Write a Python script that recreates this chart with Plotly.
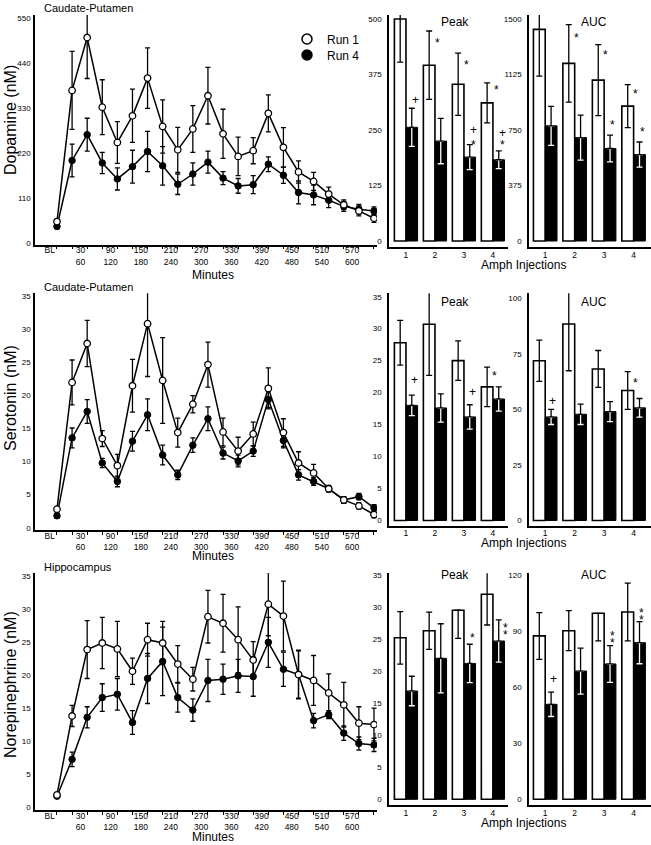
import plotly.graph_objects as go

W, H = 651, 845
FONT = "Liberation Sans, Arial, sans-serif"

# ---------------- data ----------------
TIME_LABELS = ["BL", "30", "60", "90", "120", "150", "180", "210", "240", "270", "300",
               "330", "360", "390", "420", "450", "480", "510", "540", "570", "600", "630"]
INJ = [1, 2, 3, 4]

# Dopamine, caudate-putamen
DA_RUN1 = [54, 374, 503, 333, 247, 312, 404, 286, 229, 280, 361, 268, 213, 227, 318, 235, 175, 152, 121, 95, 80, 62]
DA_RUN1_ERR = [5, 95, 100, 67, 51, 65, 74, 65, 55, 57, 69, 60, 47, 32, 45, 48, 27, 22, 17, 12, 12, 10]
DA_RUN4 = [42, 203, 266, 197, 158, 188, 225, 190, 145, 170, 199, 160, 141, 144, 194, 167, 125, 119, 106, 91, 84, 80]
DA_RUN4_ERR = [5, 40, 40, 26, 27, 40, 49, 47, 25, 27, 27, 16, 18, 22, 18, 20, 28, 24, 18, 12, 12, 10]

# Serotonin, caudate-putamen
HT_RUN1 = [2.8, 22.0, 27.9, 13.5, 9.4, 21.5, 30.9, 22.3, 14.4, 18.7, 24.7, 14.5, 11.6, 14.2, 21.1, 14.4, 9.8, 8.3, 5.9, 4.2, 3.3, 2.0]
HT_RUN1_ERR = [0.4, 3.4, 3.5, 1.2, 1.7, 4.0, 8.0, 6.5, 2.2, 1.3, 3.4, 2.1, 2.1, 1.8, 3.1, 2.1, 1.7, 1.3, 0.5, 0.5, 0.5, 0.5]
HT_RUN4 = [1.8, 13.6, 17.6, 9.8, 7.0, 13.1, 17.1, 11.0, 8.0, 12.5, 16.5, 11.3, 10.1, 11.6, 19.4, 13.2, 8.0, 7.0, 5.9, 4.2, 4.7, 3.0]
HT_RUN4_ERR = [0.4, 1.5, 1.8, 0.7, 0.8, 1.5, 2.4, 1.5, 0.7, 1.1, 1.8, 0.9, 0.9, 0.8, 1.2, 1.1, 0.8, 0.6, 0.4, 0.5, 0.5, 0.5]

# Norepinephrine, hippocampus
NE_RUN1 = [1.8, 13.8, 23.9, 24.9, 24.0, 20.6, 25.4, 24.9, 21.7, 19.4, 28.9, 27.9, 25.4, 22.3, 30.8, 29.0, 20.1, 19.2, 17.3, 15.5, 12.7, 12.5]
NE_RUN1_ERR = [0.3, 1.6, 4.4, 3.9, 4.2, 2.0, 2.5, 3.3, 2.8, 1.8, 4.0, 4.4, 5.0, 2.8, 4.8, 5.3, 3.7, 3.8, 2.9, 3.4, 2.5, 2.5]
NE_RUN4 = [1.6, 7.2, 13.6, 16.6, 17.1, 12.8, 19.5, 22.1, 16.6, 14.7, 19.2, 19.4, 19.9, 19.8, 25.0, 20.9, 20.1, 13.1, 14.0, 11.2, 9.6, 9.4]
NE_RUN4_ERR = [0.3, 1.1, 1.6, 2.1, 2.4, 1.8, 3.8, 5.2, 2.2, 1.7, 3.2, 2.3, 2.5, 3.0, 3.8, 2.6, 3.6, 1.1, 0.6, 1.1, 1.0, 1.0]

# Peak / AUC bars (Run 1 = white, Run 4 = black)
DA_PEAK_W = [500, 396, 353, 311]
DA_PEAK_W_UP = [97, 77, 70, 45]
DA_PEAK_W_DN = [97, 77, 70, 45]
DA_PEAK_B = [256, 225, 189, 183]
DA_PEAK_B_ERR = [43, 51, 28, 20]
DA_AUC_W = [1430, 1200, 1087, 911]
DA_AUC_W_UP = [316, 262, 240, 145]
DA_AUC_W_DN = [316, 262, 240, 145]
DA_AUC_B = [778, 699, 625, 584]
DA_AUC_B_ERR = [132, 152, 90, 85]

HT_PEAK_W = [27.8, 30.7, 25.0, 20.9]
HT_PEAK_W_UP = [3.5, 8.0, 3.1, 3.1]
HT_PEAK_W_DN = [3.5, 8.0, 3.1, 3.1]
HT_PEAK_B = [18.0, 17.6, 16.2, 19.0]
HT_PEAK_B_ERR = [1.6, 2.2, 1.9, 1.9]
HT_AUC_W = [71.9, 88.4, 68.2, 58.5]
HT_AUC_W_UP = [9.3, 21.0, 8.3, 8.5]
HT_AUC_W_DN = [9.3, 21.0, 8.3, 8.5]
HT_AUC_B = [46.6, 47.8, 49.0, 50.7]
HT_AUC_B_ERR = [3.4, 4.6, 4.5, 4.2]

NE_PEAK_W = [25.2, 26.3, 29.5, 32.0]
NE_PEAK_W_UP = [4.1, 2.9, 0.0, 4.8]
NE_PEAK_W_DN = [4.1, 2.9, 4.4, 4.8]
NE_PEAK_B = [16.9, 22.0, 21.2, 24.7]
NE_PEAK_B_ERR = [2.3, 5.4, 3.0, 3.3]
NE_AUC_W = [87.4, 90.2, 99.5, 100.2]
NE_AUC_W_UP = [12.5, 10.7, 0.0, 15.4]
NE_AUC_W_DN = [12.5, 10.7, 14.8, 15.4]
NE_AUC_B = [50.8, 68.6, 72.4, 83.8]
NE_AUC_B_ERR = [6.5, 12.3, 9.8, 11.3]

DA_TICKS = [0, 110, 220, 330, 440, 550]
DA_PEAK_TICKS = [0, 125, 250, 375, 500]
DA_AUC_TICKS = [0, 375, 750, 1125, 1500]
HT_TICKS = [0, 5, 10, 15, 20, 25, 30, 35]
HT_AUC_TICKS = [0, 25, 50, 75, 100]
NE_TICKS = [0, 5, 10, 15, 20, 25, 30, 35]
NE_AUC_TICKS = [0, 30, 60, 90, 120]

REGIONS = ["Caudate-Putamen", "Caudate-Putamen", "Hippocampus"]
Y_TITLES = ["Dopamine (nM)", "Serotonin (nM)", "Norepinephrine (nM)"]
RUN_NAMES = ["Run 1", "Run 4"]

# significance marks: (group, bar, text, dx, yshift px)
SIG = {
    (0, 1): [(1, "b", "+", 0.32, 8), (2, "w", "*", 0.08, -12), (3, "w", "*", 0.08, -12),
             (3, "b", "+", 0.32, 15), (3, "b", "*", 0.32, 0), (4, "w", "*", 0.11, -7),
             (4, "b", "+", 0.32, 18), (4, "b", "*", 0.32, 6)],
    (0, 2): [(2, "w", "*", 0.05, -13), (3, "w", "*", 0.05, -10), (3, "b", "*", 0.28, 10),
             (4, "w", "*", 0.05, -9), (4, "b", "*", 0.31, 10)],
    (1, 1): [(1, "b", "+", 0.28, 15), (3, "b", "+", 0.28, 13), (4, "w", "*", 0.07, -9)],
    (1, 2): [(1, "b", "+", 0.24, 8), (4, "w", "*", 0.07, -11)],
    (2, 1): [(3, "b", "*", 0.31, 6), (4, "w", "*", 0.0, -24),
             (4, "b", "*", 0.45, -8), (4, "b", "*", 0.45, -15)],
    (2, 2): [(1, "b", "+", 0.28, 13), (3, "b", "*", 0.3, 10), (3, "b", "*", 0.3, 3),
             (4, "b", "*", 0.28, 9), (4, "b", "*", 0.28, 2)],
}

LINES = [(DA_RUN1, DA_RUN1_ERR, DA_RUN4, DA_RUN4_ERR),
         (HT_RUN1, HT_RUN1_ERR, HT_RUN4, HT_RUN4_ERR),
         (NE_RUN1, NE_RUN1_ERR, NE_RUN4, NE_RUN4_ERR)]
BARS = {
    (0, 1): (DA_PEAK_W, DA_PEAK_W_UP, DA_PEAK_W_DN, DA_PEAK_B, DA_PEAK_B_ERR),
    (0, 2): (DA_AUC_W, DA_AUC_W_UP, DA_AUC_W_DN, DA_AUC_B, DA_AUC_B_ERR),
    (1, 1): (HT_PEAK_W, HT_PEAK_W_UP, HT_PEAK_W_DN, HT_PEAK_B, HT_PEAK_B_ERR),
    (1, 2): (HT_AUC_W, HT_AUC_W_UP, HT_AUC_W_DN, HT_AUC_B, HT_AUC_B_ERR),
    (2, 1): (NE_PEAK_W, NE_PEAK_W_UP, NE_PEAK_W_DN, NE_PEAK_B, NE_PEAK_B_ERR),
    (2, 2): (NE_AUC_W, NE_AUC_W_UP, NE_AUC_W_DN, NE_AUC_B, NE_AUC_B_ERR),
}
YTICKS = {(0, 0): DA_TICKS, (0, 1): DA_PEAK_TICKS, (0, 2): DA_AUC_TICKS,
          (1, 0): HT_TICKS, (1, 1): HT_TICKS, (1, 2): HT_AUC_TICKS,
          (2, 0): NE_TICKS, (2, 1): NE_TICKS, (2, 2): NE_AUC_TICKS}

# ---------------- layout geometry (pixels) ----------------
COL_X = [(35, 377), (389, 508), (529, 651)]
COL_XRANGE = [[-1.457, 21.2], [0.414, 4.52], [0.45, 4.59]]
ROW_Y_LINE = [(15, 244.5), (293.3, 530), (573.3, 810)]
ROW_Y_BAR = [(15, 246.7), (293.3, 525.5), (573.3, 805)]
YRANGE = {(0, 0): [-2, 558], (0, 1): [-12.8, 509], (0, 2): [-38.5, 1527],
          (1, 0): [-0.35, 35.5], (1, 1): [-0.78, 35.53], (1, 2): [-2.25, 102.25],
          (2, 0): [-0.5, 35.5], (2, 1): [-0.89, 35.27], (2, 2): [-3.05, 120.9]}
BAR_W = 0.4

def pxx(p):
    return p / W

def pxy(p):
    return 1 - p / H

fig = go.Figure()
layout = dict(width=W, height=H, margin=dict(l=0, r=0, t=0, b=0, autoexpand=False),
              paper_bgcolor="white", plot_bgcolor="white",
              font=dict(family=FONT, color="black", size=12),
              barmode="overlay", showlegend=True)
annotations = []

x_idx = list(range(len(TIME_LABELS)))
tickvals_line = [-0.48] + [2 * k - 0.45 for k in range(1, 11)]
ticktext_line = ["BL"] + [TIME_LABELS[2 * k - 1] + "<br>" + TIME_LABELS[2 * k] for k in range(1, 11)]

for r in range(3):
    for c in range(3):
        n = r * 3 + c + 1
        xa = "x" if n == 1 else f"x{n}"
        ya = "y" if n == 1 else f"y{n}"
        xkey = "xaxis" if n == 1 else f"xaxis{n}"
        ykey = "yaxis" if n == 1 else f"yaxis{n}"
        ydom = ROW_Y_LINE[r] if c == 0 else ROW_Y_BAR[r]
        xd = COL_X[c]
        xaxis = dict(domain=[pxx(xd[0]), pxx(xd[1])], range=COL_XRANGE[c], anchor=ya,
                     showgrid=False, zeroline=False, showline=True, linecolor="black",
                     linewidth=1.5, ticks="", automargin=False,
                     tickfont=dict(size=8.5, family=FONT))
        yaxis = dict(domain=[pxy(ydom[1]), pxy(ydom[0])], range=YRANGE[(r, c)], anchor=xa,
                     showgrid=False, zeroline=False, showline=True, linecolor="black",
                     linewidth=1.5, ticks="", tickvals=YTICKS[(r, c)], automargin=False,
                     tickfont=dict(size=8, family=FONT))
        if c == 0:
            xaxis.update(tickmode="array", tickvals=tickvals_line, ticktext=ticktext_line,
                         ticklabelstandoff=-3,
                         minor=dict(tickmode="array", tickvals=x_idx, ticks="outside",
                                    ticklen=3, tickwidth=1, tickcolor="black"))
            yaxis.update(ticklabelstandoff=1)
            run1, run1e, run4, run4e = LINES[r]
            fig.add_trace(go.Scatter(x=x_idx, y=run4, xaxis=xa, yaxis=ya, mode="lines+markers",
                                     name=RUN_NAMES[1],
                                     line=dict(color="black", width=1.5),
                                     marker=dict(color="black", size=6.5, line=dict(color="black", width=1)),
                                     error_y=dict(type="data", array=run4e, color="black",
                                                  thickness=1.3, width=2.5),
                                     showlegend=False))
            fig.add_trace(go.Scatter(x=x_idx, y=run1, xaxis=xa, yaxis=ya, mode="lines+markers",
                                     name=RUN_NAMES[0],
                                     line=dict(color="black", width=1.5),
                                     marker=dict(color="white", size=6.5, line=dict(color="black", width=1.3)),
                                     error_y=dict(type="data", array=run1e, color="black",
                                                  thickness=1.3, width=2.5),
                                     showlegend=False))
        else:
            xaxis.update(tickmode="array", tickvals=INJ, ticktext=[str(i) for i in INJ],
                         ticklabelstandoff=-1)
            yaxis.update(ticklabelstandoff=4)
            wv, wup, wdn, bv, be = BARS[(r, c)]
            fig.add_trace(go.Bar(x=[i - BAR_W / 2 for i in INJ], y=wv, width=BAR_W,
                                 xaxis=xa, yaxis=ya, name=RUN_NAMES[0],
                                 marker=dict(color="white", line=dict(color="black", width=1.6)),
                                 error_y=dict(type="data", symmetric=False, array=wup, arrayminus=wdn,
                                              color="black", thickness=1.3, width=3),
                                 showlegend=False))
            fig.add_trace(go.Bar(x=[i + BAR_W / 2 for i in INJ], y=bv, width=BAR_W,
                                 xaxis=xa, yaxis=ya, name=RUN_NAMES[1],
                                 marker=dict(color="black", line=dict(color="black", width=1)),
                                 showlegend=False))
            # lower part of the error bar (inside the black bar) in white
            fig.add_trace(go.Scatter(x=[i + BAR_W / 2 for i in INJ], y=bv, xaxis=xa, yaxis=ya,
                                     mode="markers", marker=dict(size=1, color="rgba(0,0,0,0)"),
                                     error_y=dict(type="data", symmetric=False, array=[0] * 4,
                                                  arrayminus=be, color="white", thickness=1.3, width=3),
                                     showlegend=False, hoverinfo="skip"))
            fig.add_trace(go.Scatter(x=[i + BAR_W / 2 for i in INJ], y=bv, xaxis=xa, yaxis=ya,
                                     mode="markers", marker=dict(size=1, color="rgba(0,0,0,0)"),
                                     error_y=dict(type="data", symmetric=False, array=be,
                                                  arrayminus=[0] * 4, color="black", thickness=1.3, width=3),
                                     showlegend=False, hoverinfo="skip"))
            for (g, s, txt, dx, ys) in SIG[(r, c)]:
                yv = (wv[g - 1] + wup[g - 1]) if s == "w" else (bv[g - 1] + be[g - 1])
                annotations.append(dict(x=g + dx, y=yv, xref=xa, yref=ya, text=txt,
                                        showarrow=False, xanchor="center", yanchor="middle",
                                        yshift=ys, font=dict(size=12, family=FONT, color="black")))
        layout[xkey] = xaxis
        layout[ykey] = yaxis

# legend entries (marker only), one legend per entry for exact spacing
fig.add_trace(go.Scatter(x=[None], y=[None], mode="markers", name=RUN_NAMES[0], legend="legend",
                         marker=dict(color="white", size=10, line=dict(color="black", width=1.5))))
fig.add_trace(go.Scatter(x=[None], y=[None], mode="markers", name=RUN_NAMES[1], legend="legend2",
                         marker=dict(color="black", size=10, line=dict(color="black", width=1.5))))
leg_common = dict(xanchor="left", yanchor="middle", bgcolor="rgba(0,0,0,0)", borderwidth=0,
                  tracegroupgap=0, font=dict(size=12, family=FONT))
layout["legend"] = dict(x=pxx(287), y=pxy(39), **leg_common)
layout["legend2"] = dict(x=pxx(287), y=pxy(55), **leg_common)

# text labels
ROW_REGION_Y = [8.3, 287.3, 567.3]
ROW_YTITLE_Y = [120, 398, 685]
ROW_MIN_Y = [275, 556, 837]
ROW_AMPH_Y = [265, 543, 823]
ROW_PANEL_Y = [21.7, 301.7, 575]
for r in range(3):
    annotations.append(dict(x=pxx(41.7), y=pxy(ROW_REGION_Y[r]), xref="paper", yref="paper",
                            text=REGIONS[r], showarrow=False, xanchor="left", yanchor="middle",
                            font=dict(size=11, family=FONT)))
    annotations.append(dict(x=pxx(10), y=pxy(ROW_YTITLE_Y[r]), xref="paper", yref="paper",
                            text=Y_TITLES[r], showarrow=False, textangle=-90,
                            xanchor="center", yanchor="middle", font=dict(size=16, family=FONT)))
    annotations.append(dict(x=pxx(213), y=pxy(ROW_MIN_Y[r]), xref="paper", yref="paper",
                            text="Minutes", showarrow=False, xanchor="center", yanchor="middle",
                            font=dict(size=12, family=FONT)))
    annotations.append(dict(x=pxx(523), y=pxy(ROW_AMPH_Y[r]), xref="paper", yref="paper",
                            text="Amph Injections", showarrow=False, xanchor="center", yanchor="middle",
                            font=dict(size=12, family=FONT)))
    annotations.append(dict(x=pxx(455), y=pxy(ROW_PANEL_Y[r]), xref="paper", yref="paper",
                            text="Peak", showarrow=False, xanchor="center", yanchor="middle",
                            font=dict(size=12, family=FONT)))
    annotations.append(dict(x=pxx(594), y=pxy(ROW_PANEL_Y[r]), xref="paper", yref="paper",
                            text="AUC", showarrow=False, xanchor="center", yanchor="middle",
                            font=dict(size=12, family=FONT)))

layout["annotations"] = annotations
fig.update_layout(**layout)
fig.write_html("out.html", config={"displayModeBar": False},
               post_script="document.body.style.margin='0px';")
